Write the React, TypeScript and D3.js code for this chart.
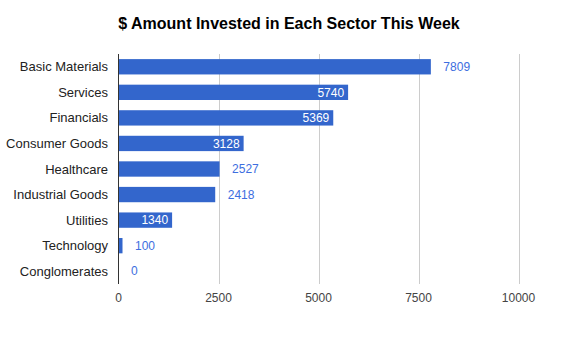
import React from "react";
import * as d3 from "d3";

const categories = [
  "Basic Materials",
  "Services",
  "Financials",
  "Consumer Goods",
  "Healthcare",
  "Industrial Goods",
  "Utilities",
  "Technology",
  "Conglomerates",
];
const values = [7809, 5740, 5369, 3128, 2527, 2418, 1340, 100, 0];
const labelInside = [false, true, true, true, false, false, true, false, false];
const xTicks = [0, 2500, 5000, 7500, 10000];
const title = "$ Amount Invested in Each Sector This Week";

const W = 571;
const H = 337;
const left = 118.5;
const right = 518.5;
const top = 54;
const bottom = 284;
const font = "Arial, 'Liberation Sans', sans-serif";

export default function App() {
  const x = d3.scaleLinear().domain([0, 10000]).range([left, right]);
  const y = d3
    .scaleBand<string>()
    .domain(categories)
    .range([top, bottom])
    .paddingInner(0.4)
    .paddingOuter(0.2);
  return (
    <svg
      width={W}
      height={H}
      style={{ position: "absolute", left: 0, top: 0, background: "#fff" }}
    >
      <text
        x={289}
        y={29}
        textAnchor="middle"
        fontFamily={font}
        fontWeight="bold"
        fontSize={16}
        fill="#000"
      >
        {title}
      </text>
      {xTicks.map((t) => (
        <g key={t}>
          {t !== 0 && (
            <line
              x1={Math.round(x(t)) + 0.5}
              x2={Math.round(x(t)) + 0.5}
              y1={top}
              y2={bottom}
              stroke="#cccccc"
              strokeWidth={1}
            />
          )}
          <text
            x={x(t)}
            y={302}
            textAnchor="middle"
            fontFamily={font}
            fontSize={12}
            fill="#444"
          >
            {t}
          </text>
        </g>
      ))}
      {categories.map((c, i) => {
        const yy = y(c)!;
        const bw = y.bandwidth();
        const xe = x(values[i]);
        const cy = yy + bw / 2;
        return (
          <g key={c}>
            <rect
              x={x(0)}
              y={yy}
              width={Math.max(0, xe - x(0))}
              height={bw}
              fill="#3366cc"
            />
            <text
              x={108}
              y={cy}
              dy="0.35em"
              textAnchor="end"
              fontFamily={font}
              fontSize={13}
              fill="#222"
            >
              {c}
            </text>
            <text
              x={labelInside[i] ? xe - 4 : xe + 12.5}
              y={cy}
              dy="0.35em"
              textAnchor={labelInside[i] ? "end" : "start"}
              fontFamily={font}
              fontSize={12}
              fill={labelInside[i] ? "#ffffff" : "#3d6ee0"}
            >
              {values[i]}
            </text>
          </g>
        );
      })}
      <line
        x1={x(0)}
        x2={x(0)}
        y1={top}
        y2={bottom}
        stroke="#333333"
        strokeWidth={1}
      />
    </svg>
  );
}
